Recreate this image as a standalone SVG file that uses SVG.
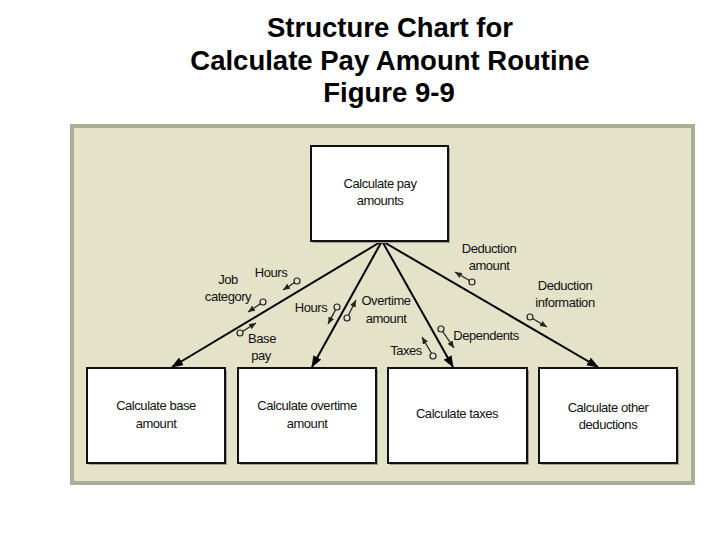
<svg xmlns="http://www.w3.org/2000/svg" width="720" height="540" viewBox="0 0 720 540">
  <style>
    .title { font-family: "Liberation Sans", Arial, sans-serif; font-weight: bold; font-size: 27.5px; fill: #000; text-anchor: middle; }
    .box { fill: #ffffff; stroke: #111111; stroke-width: 2; }
    .shadow { fill: #a0a094; }
    .btxt { font-family: "Liberation Sans", Arial, sans-serif; font-size: 13px; fill: #111; text-anchor: middle; letter-spacing: -0.45px; }
    .lbl { font-family: "Liberation Sans", Arial, sans-serif; font-size: 13px; fill: #111; text-anchor: middle; letter-spacing: -0.45px; }
    .conn { stroke: #000; stroke-width: 2; fill: none; marker-end: url(#bigArrow); }
    .couple { stroke: #222; stroke-width: 1.3; fill: none; marker-end: url(#smallArrow); }
    .ring { fill: #e4e2c8; stroke: #222; stroke-width: 1.2; }
  </style>
  <defs>
    <marker id="bigArrow" markerUnits="userSpaceOnUse" markerWidth="12" markerHeight="9" refX="11" refY="4.5" orient="auto">
      <path d="M0,0 L12,4.5 L0,9 z" fill="#000"/>
    </marker>
    <marker id="smallArrow" markerUnits="userSpaceOnUse" markerWidth="7" markerHeight="6" refX="7" refY="3" orient="auto">
      <path d="M0,0 L7,3 L0,6 z" fill="#222"/>
    </marker>
  </defs>

  <rect width="720" height="540" fill="#ffffff"/>

  <g id="title">
    <text class="title" x="390" y="37">Structure Chart for</text>
    <text class="title" x="390" y="70">Calculate Pay Amount Routine</text>
    <text class="title" x="389" y="102">Figure 9-9</text>
  </g>

  <g id="panel">
    <rect x="72" y="126" width="621" height="357" fill="#e4e2c8" stroke="#aeae98" stroke-width="4"/>
  </g>

  <g id="connectors">
    <line class="conn" x1="382" y1="241" x2="172" y2="367"/>
    <line class="conn" x1="382" y1="241" x2="312" y2="367"/>
    <line class="conn" x1="382" y1="241" x2="453" y2="367"/>
    <line class="conn" x1="382" y1="241" x2="598" y2="367"/>
  </g>

  <g id="node-top">
    <rect class="shadow" x="313" y="148" width="137" height="95"/>
    <rect class="box" x="311" y="146" width="137" height="95"/>
    <text class="btxt" x="380" y="188">Calculate pay</text>
    <text class="btxt" x="380" y="205">amounts</text>
  </g>

  <g id="node-base">
    <rect class="shadow" x="89" y="370" width="138" height="95"/>
    <rect class="box" x="87" y="368" width="138" height="95"/>
    <text class="btxt" x="156" y="410">Calculate base</text>
    <text class="btxt" x="156" y="428">amount</text>
  </g>

  <g id="node-overtime">
    <rect class="shadow" x="240" y="370" width="138" height="95"/>
    <rect class="box" x="238" y="368" width="138" height="95"/>
    <text class="btxt" x="307" y="410">Calculate overtime</text>
    <text class="btxt" x="307" y="428">amount</text>
  </g>

  <g id="node-taxes">
    <rect class="shadow" x="390" y="370" width="139" height="95"/>
    <rect class="box" x="388" y="368" width="139" height="95"/>
    <text class="btxt" x="457" y="418">Calculate taxes</text>
  </g>

  <g id="node-other">
    <rect class="shadow" x="541" y="370" width="138" height="95"/>
    <rect class="box" x="539" y="368" width="138" height="95"/>
    <text class="btxt" x="608" y="412">Calculate other</text>
    <text class="btxt" x="608" y="429">deductions</text>
  </g>

  <g id="data-couples">
    <line class="couple" x1="297" y1="281" x2="283" y2="290"/>
    <circle class="ring" cx="297" cy="281" r="3"/>
    <line class="couple" x1="263" y1="302" x2="248" y2="312"/>
    <circle class="ring" cx="263" cy="302" r="3"/>
    <line class="couple" x1="240" y1="333" x2="256" y2="323"/>
    <circle class="ring" cx="240" cy="333" r="3"/>
    <line class="couple" x1="337" y1="307" x2="328" y2="324"/>
    <circle class="ring" cx="337" cy="307" r="3"/>
    <line class="couple" x1="347" y1="318" x2="356" y2="300"/>
    <circle class="ring" cx="347" cy="318" r="3"/>
    <line class="couple" x1="472" y1="282" x2="455" y2="272"/>
    <circle class="ring" cx="472" cy="282" r="3"/>
    <line class="couple" x1="530" y1="317" x2="547" y2="327"/>
    <circle class="ring" cx="530" cy="317" r="3"/>
    <line class="couple" x1="441" y1="329" x2="454" y2="348"/>
    <circle class="ring" cx="441" cy="329" r="3"/>
    <line class="couple" x1="433" y1="356" x2="422" y2="337"/>
    <circle class="ring" cx="433" cy="356" r="3"/>
  </g>

  <g id="labels">
    <text class="lbl" x="271" y="277">Hours</text>
    <text class="lbl" x="228" y="284">Job</text>
    <text class="lbl" x="228" y="301">category</text>
    <text class="lbl" x="262" y="343">Base</text>
    <text class="lbl" x="261" y="360">pay</text>
    <text class="lbl" x="311" y="312">Hours</text>
    <text class="lbl" x="386" y="305">Overtime</text>
    <text class="lbl" x="386" y="323">amount</text>
    <text class="lbl" x="489" y="253">Deduction</text>
    <text class="lbl" x="489" y="270">amount</text>
    <text class="lbl" x="565" y="290">Deduction</text>
    <text class="lbl" x="565" y="307">information</text>
    <text class="lbl" x="486" y="340">Dependents</text>
    <text class="lbl" x="406" y="355">Taxes</text>
  </g>
</svg>
